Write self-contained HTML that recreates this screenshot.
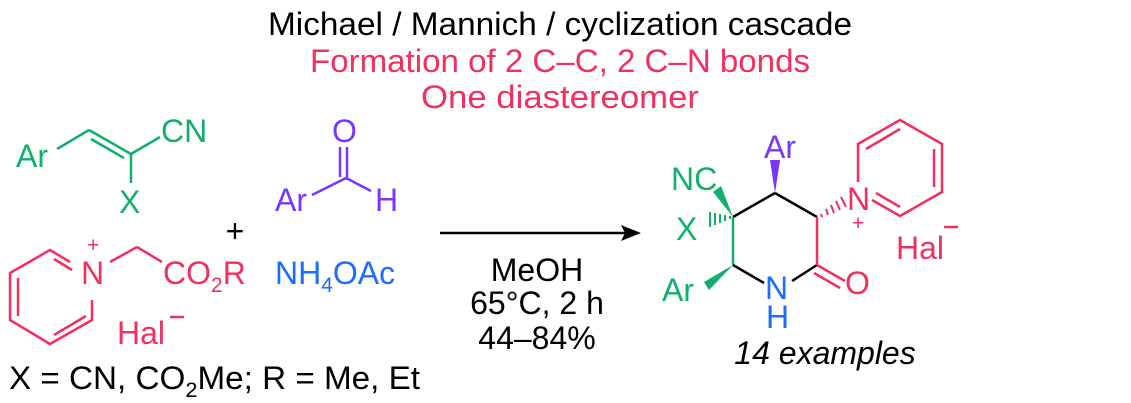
<!DOCTYPE html>
<html><head><style>
html,body{margin:0;padding:0;background:#fff;}
svg{display:block;}
text{font-family:"Liberation Sans",sans-serif;font-size:32px;}
.s{font-size:21px;}
</style></head><body>
<svg width="1131" height="403" viewBox="0 0 1131 403" xmlns="http://www.w3.org/2000/svg">
<g text-anchor="middle">
<text x="560" y="35" fill="#000" textLength="584" lengthAdjust="spacingAndGlyphs">Michael / Mannich / cyclization cascade</text>
<text x="560" y="72" fill="#f0305f" textLength="500" lengthAdjust="spacingAndGlyphs">Formation of 2 C–C, 2 C–N bonds</text>
<text x="560" y="108" fill="#f0305f" textLength="278" lengthAdjust="spacingAndGlyphs">One diastereomer</text>
</g>
<g stroke="#11b06a" stroke-width="2.5" fill="none">
<line x1="57" y1="149" x2="89" y2="130"/>
<line x1="89" y1="130" x2="131" y2="154"/>
<line x1="91" y1="139" x2="124" y2="158"/>
<line x1="131" y1="154" x2="160" y2="137"/>
<line x1="131" y1="154" x2="131" y2="183"/>
</g>
<g fill="#11b06a">
<text x="16" y="167">Ar</text>
<text x="161" y="142">CN</text>
<text x="119" y="213">X</text>
</g>
<g stroke="#7a35ff" stroke-width="2.5">
<line x1="340" y1="147" x2="340" y2="177"/>
<line x1="347" y1="147" x2="347" y2="180"/>
<line x1="312" y1="195" x2="346" y2="178"/>
<line x1="346" y1="178" x2="371" y2="191"/>
</g>
<g fill="#7a35ff">
<text x="332" y="142">O</text>
<text x="275" y="211">Ar</text>
<text x="375" y="211">H</text>
</g>
<text x="235" y="242" text-anchor="middle" fill="#000">+</text>
<g stroke="#f0305f" stroke-width="2.5" fill="none">
<polyline points="70,262 50,250 10,273 10,320 50,344 92,320 92,300"/>
<line x1="54" y1="259" x2="72" y2="270"/>
<line x1="18" y1="278" x2="18" y2="316"/>
<line x1="54" y1="335" x2="86" y2="316"/>
<line x1="110" y1="262" x2="137" y2="247"/>
<line x1="137" y1="247" x2="162" y2="262"/>
<line x1="170" y1="317" x2="184" y2="317"/>
<line x1="944" y1="227" x2="958" y2="227"/>
</g>
<g fill="#f0305f">
<text x="81" y="284">N</text>
<text x="87" y="252" class="s">+</text>
<text x="163" y="284">CO<tspan class="s" dy="8">2</tspan><tspan dy="-8">R</tspan></text>
<text x="117" y="344">Hal</text>
</g>
<text x="275" y="284" fill="#1c6cff">NH<tspan class="s" dy="8">4</tspan><tspan dy="-8">OAc</tspan></text>
<text x="9" y="389" fill="#000" textLength="411" lengthAdjust="spacingAndGlyphs">X = CN, CO<tspan class="s" dy="8">2</tspan><tspan dy="-8">Me; R = Me, Et</tspan></text>
<line x1="440" y1="233" x2="625" y2="233" stroke="#000" stroke-width="2.5"/>
<polygon points="641,233 621,225 625,233 621,241" fill="#000"/>
<g text-anchor="middle" fill="#000">
<text x="537" y="281">MeOH</text>
<text x="537" y="314">65°C, 2 h</text>
<text x="537" y="349">44–84%</text>
<text x="825" y="364" font-style="italic">14 examples</text>
</g>
<g stroke-width="2.5" fill="none">
<line x1="733" y1="217" x2="775" y2="193" stroke="#000"/>
<line x1="775" y1="193" x2="817" y2="217" stroke="#000"/>
<line x1="733" y1="217" x2="733" y2="265" stroke="#11b06a"/>
<line x1="733" y1="265" x2="764" y2="283" stroke="#000"/>
<line x1="792" y1="281" x2="817" y2="265" stroke="#000"/>
<line x1="817" y1="217" x2="817" y2="265" stroke="#f0305f"/>
<line x1="817" y1="265" x2="845" y2="281" stroke="#f0305f"/>
<line x1="814" y1="273" x2="840" y2="288" stroke="#f0305f"/>
<polyline points="858,182 858,144 900,120 942,144 942,192 900,216 872,200" stroke="#f0305f"/>
<line x1="866" y1="149" x2="900" y2="129" stroke="#f0305f"/>
<line x1="934" y1="149" x2="934" y2="187" stroke="#f0305f"/>
<line x1="900" y1="207" x2="876" y2="193" stroke="#f0305f"/>
</g>
<polygon points="775,193 770,160 780,160" fill="#7a35ff"/>
<polygon points="733,217 713,192 721,186" fill="#11b06a"/>
<polygon points="733,265 704,282 709,290" fill="#11b06a"/>
<g stroke="#11b06a" stroke-width="2">
<line x1="730" y1="216" x2="730" y2="219"/>
<line x1="725" y1="215" x2="725" y2="221"/>
<line x1="720" y1="214" x2="720" y2="223"/>
<line x1="715" y1="213" x2="715" y2="225"/>
<line x1="710" y1="212" x2="710" y2="227"/>
</g>
<g stroke="#f0305f" stroke-width="2">
<line x1="821" y1="214" x2="822" y2="217"/>
<line x1="826" y1="209" x2="828" y2="215"/>
<line x1="831" y1="205" x2="834" y2="213"/>
<line x1="836" y1="201" x2="840" y2="210"/>
<line x1="841" y1="197" x2="846" y2="207"/>
</g>
<text x="764" y="158" fill="#7a35ff">Ar</text>
<g fill="#11b06a">
<text x="671" y="190">NC</text>
<text x="676" y="240">X</text>
<text x="662" y="301">Ar</text>
</g>
<g fill="#1c6cff">
<text x="765" y="299">N</text>
<text x="766" y="328">H</text>
</g>
<g fill="#f0305f">
<text x="845" y="294">O</text>
<text x="847" y="210">N</text>
<text x="852" y="230" class="s">+</text>
<text x="896" y="259">Hal</text>
</g>
</svg>
</body></html>
